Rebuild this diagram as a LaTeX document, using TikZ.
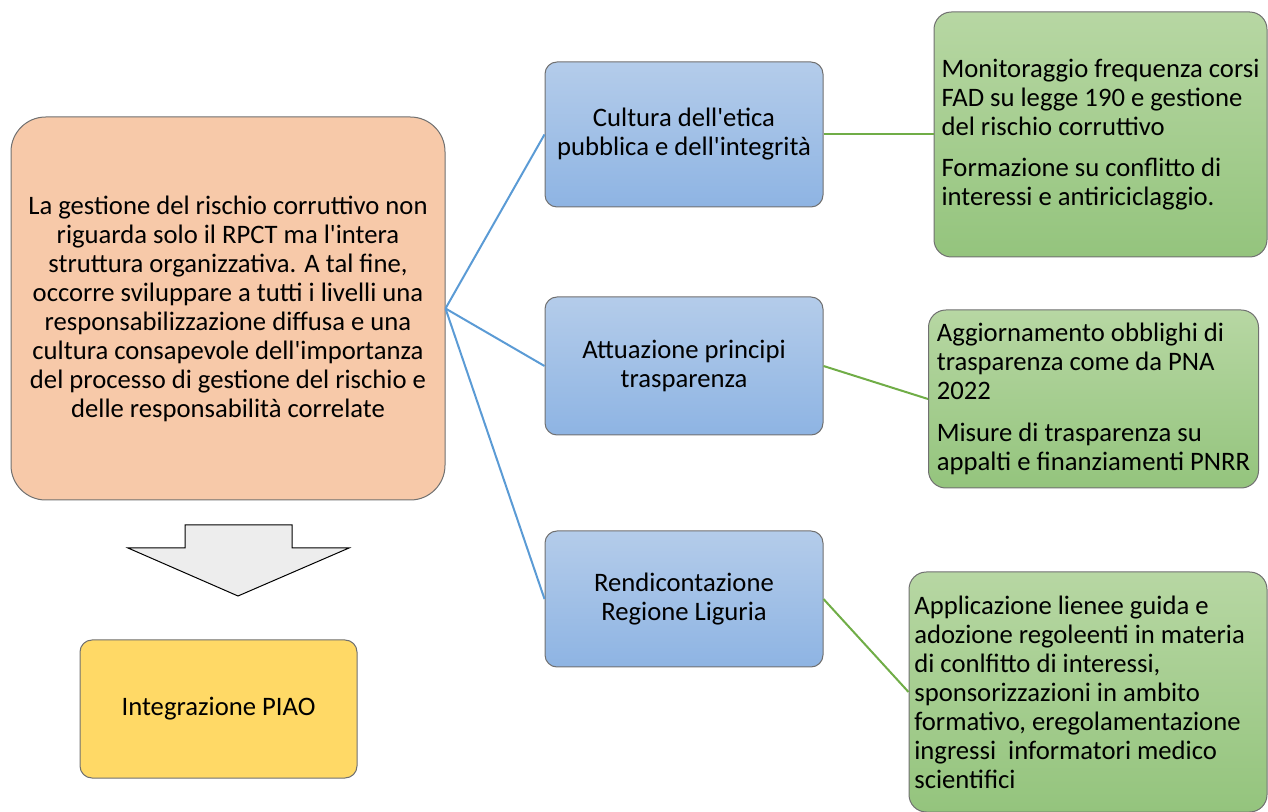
\documentclass[tikz,border=0pt]{standalone}
\usepackage{fontspec}
\setmainfont{Carlito}[Ligatures=TeXOff]
\definecolor{orangebox}{HTML}{F7C9A9}
\definecolor{yellowbox}{HTML}{FFD966}
\definecolor{bluetop}{HTML}{B4CCEA}
\definecolor{bluebot}{HTML}{8EB4E3}
\definecolor{greentop}{HTML}{B7D7A3}
\definecolor{greenbot}{HTML}{94C47D}
\definecolor{edgegray}{HTML}{707070}
\definecolor{blueline}{HTML}{5B9BD5}
\definecolor{greenline}{HTML}{70AD47}
\begin{document}
\begin{tikzpicture}[x=0.75pt, y=-0.75pt,
  box/.style={draw=edgegray, line width=0.75pt, inner sep=0pt, align=center,
    font=\fontsize{20}{21.75}\selectfont},
  themebox/.style={box, rounded corners=9pt, top color=bluetop, bottom color=bluebot,
    minimum width=208.5pt},
  actionbox/.style={box, rounded corners=13pt, top color=greentop, bottom color=greenbot,
    align=left},
  blink/.style={blueline, line width=1.5pt},
  glink/.style={greenline, line width=1.5pt}]
\useasboundingbox (0,0) rectangle (1268,812);

\node[box, rounded corners=26pt, fill=orangebox, minimum width=325.5pt, minimum height=287.25pt]
  (intro) at (228,308.5) {La gestione del rischio corruttivo non\\riguarda solo il RPCT ma l'intera\\struttura organizzativa. A tal fine,\\occorre sviluppare a tutti i livelli una\\responsabilizzazione diffusa e una\\cultura consapevole dell'importanza\\del processo di gestione del rischio e\\delle responsabilità correlate};
\draw[line width=0.75pt, fill=black!7] (185,525) -- (292,525) -- (292,548) -- (349,548) -- (238,596)
  -- (128,548) -- (185,548) -- cycle;
\node[box, rounded corners=9pt, fill=yellowbox, minimum width=207.75pt, minimum height=103.5pt]
  (piao) at (218.5,709) {Integrazione PIAO};

\node[themebox, minimum height=108.75pt] (etica) at (684,134.5) {Cultura dell'etica\\pubblica e dell'integrità};
\node[themebox, minimum height=103.5pt] (trasp) at (684,366) {Attuazione principi\\trasparenza};
\node[themebox, minimum height=102pt] (rend) at (684,599) {Rendicontazione\\Regione Liguria};

\node[actionbox, minimum width=249.75pt, minimum height=183.75pt] (fad) at (1100.5,134.5)
  {Monitoraggio frequenza corsi\\FAD su legge 190 e gestione\\del rischio corruttivo\\[9.5pt]Formazione su conflitto di\\interessi e antiriciclaggio.};
\node[actionbox, minimum width=247.5pt, minimum height=133.5pt] (pna) at (1093.5,399)
  {Aggiornamento obblighi di\\trasparenza come da PNA\\2022\\[9.5pt]Misure di trasparenza su\\appalti e finanziamenti PNRR};
\node[actionbox, align=flush left, inner xsep=4pt, text width=260.5pt, minimum height=180pt]
  (linee) at (1088,692)
  {Applicazione lienee guida e\\adozione regoleenti in materia\\di conlfitto di interessi,\\sponsorizzazioni in ambito\\formativo, eregolamentazione\\ingressi~ informatori medico\\scientifici};

\draw[blink] (intro.east) -- (etica.west);
\draw[blink] (intro.east) -- (trasp.west);
\draw[blink] (intro.east) -- (rend.west);
\draw[glink] (etica.east) -- (fad.west);
\draw[glink] (trasp.east) -- (pna.west);
\draw[glink] (rend.east) -- (linee.west);
\end{tikzpicture}
\end{document}
